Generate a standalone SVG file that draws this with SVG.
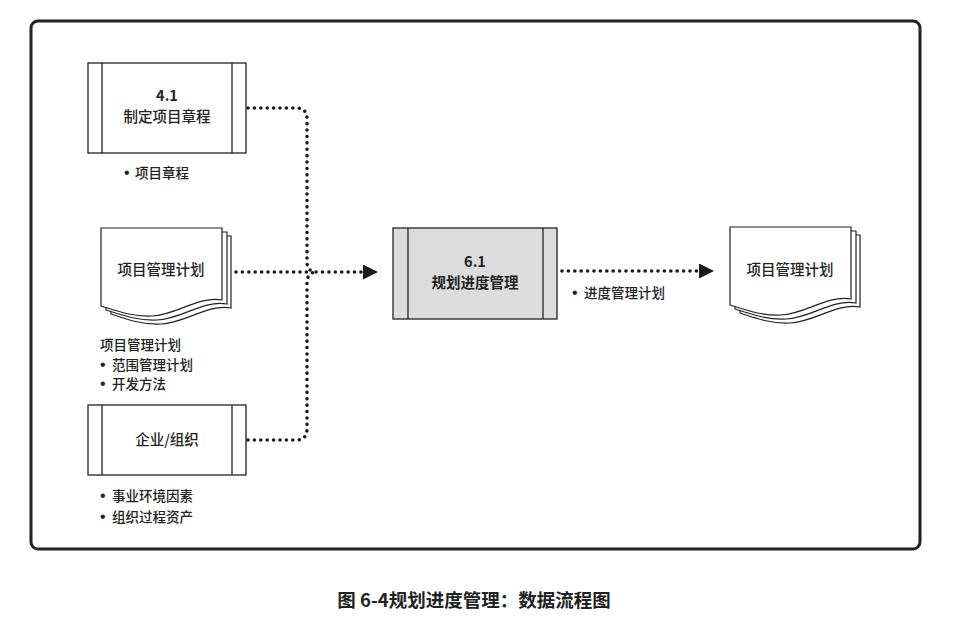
<svg xmlns="http://www.w3.org/2000/svg" width="954" height="622" viewBox="0 0 954 622">
  <defs>
    <style>
      .t { font-family: "Noto Sans CJK SC", "Noto Sans", sans-serif; fill: #222; font-weight: 500; }
      .lbl { font-size: 14.5px; text-anchor: middle; }
      .note { font-size: 13.5px; }
      .bu { font-family: "Liberation Sans", sans-serif; font-size: 16px; }
      .b { font-weight: bold; }
      .box { fill: #fff; stroke: #222; stroke-width: 1.3; }
      .ln { stroke: #222; stroke-width: 1.3; fill: none; }
      .page { fill: #fff; stroke: #222; stroke-width: 1.2; }
      .dots { fill: none; stroke: #1a1a1a; stroke-width: 3.6; stroke-linecap: round; stroke-dasharray: 0 6.4; }
    </style>
    <marker id="arrow" markerWidth="16" markerHeight="16" refX="15" refY="7.5" orient="auto" markerUnits="userSpaceOnUse">
      <path d="M0,0 L15,7.5 L0,15 Z" fill="#1a1a1a"/>
    </marker>
    <!-- document symbol: three stacked pages with wavy bottom -->
    <g id="doc">
      <path class="page" d="M10,8 H130 V80 C105,76 85,95 60,96 C40,97 22,90 10,86 Z"/>
      <path class="page" d="M5,4 H126 V76 C101,72 81,91 56,92 C36,93 18,86 5,82 Z"/>
      <path class="page" d="M0,0 H121 V72 C96,68 76,87 51,88 C31,89 13,82 0,78 Z"/>
    </g>
  </defs>

  <rect width="954" height="622" fill="#fff"/>

  <!-- outer frame -->
  <rect x="31" y="21" width="889" height="528" rx="7" fill="none" stroke="#222" stroke-width="3"/>

  <!-- connectors -->
  <g id="connectors">
    <path class="dots" d="M248,108 H296 Q307,108 307,119 V262 Q307,272 317,272 H378" marker-end="url(#arrow)"/>
    <path class="dots" d="M248,440 H296 Q307,440 307,429 V283 Q307,272 317,272"/>
    <path class="dots" d="M236,272 H307"/>
    <path class="dots" d="M562,271 H714" marker-end="url(#arrow)"/>
    <text class="t note" y="298"><tspan class="bu" x="572">•</tspan><tspan x="584">进度管理计划</tspan></text>
  </g>

  <!-- 4.1 -->
  <g id="node-4-1">
    <rect class="box" x="88" y="63" width="158" height="90"/>
    <line class="ln" x1="102" y1="63" x2="102" y2="153"/>
    <line class="ln" x1="232" y1="63" x2="232" y2="153"/>
    <text class="t lbl b" x="167" y="101">4.1</text>
    <text class="t lbl" x="167" y="122">制定项目章程</text>
    <text class="t note" y="178"><tspan class="bu" x="124">•</tspan><tspan x="135">项目章程</tspan></text>
  </g>

  <!-- project management plan (input) -->
  <g id="node-pmp-in">
    <use href="#doc" x="101" y="228"/>
    <text class="t lbl" x="161" y="275">项目管理计划</text>
    <text class="t note" x="100" y="350">项目管理计划</text>
    <text class="t note" y="370"><tspan class="bu" x="100">•</tspan><tspan x="112">范围管理计划</tspan></text>
    <text class="t note" y="389"><tspan class="bu" x="100">•</tspan><tspan x="112">开发方法</tspan></text>
  </g>

  <!-- enterprise / organization -->
  <g id="node-org">
    <rect class="box" x="88" y="405" width="158" height="70"/>
    <line class="ln" x1="102" y1="405" x2="102" y2="475"/>
    <line class="ln" x1="232" y1="405" x2="232" y2="475"/>
    <text class="t lbl" x="167" y="445">企业/组织</text>
    <text class="t note" y="501"><tspan class="bu" x="100">•</tspan><tspan x="112">事业环境因素</tspan></text>
    <text class="t note" y="522"><tspan class="bu" x="100">•</tspan><tspan x="112">组织过程资产</tspan></text>
  </g>

  <!-- 6.1 -->
  <g id="node-6-1">
    <rect x="393" y="228" width="164" height="91" fill="#dcdcdc" stroke="#222" stroke-width="1.3"/>
    <line class="ln" x1="408" y1="228" x2="408" y2="319"/>
    <line class="ln" x1="543" y1="228" x2="543" y2="319"/>
    <text class="t lbl b" x="475" y="267">6.1</text>
    <text class="t lbl b" x="475" y="288">规划进度管理</text>
  </g>

  <!-- project management plan (output) -->
  <g id="node-pmp-out">
    <use href="#doc" x="730" y="227"/>
    <text class="t lbl" x="790" y="275">项目管理计划</text>
  </g>

  <!-- caption -->
  <text class="t b" x="474" y="607" font-size="18.5" text-anchor="middle">图 6-4规划进度管理：数据流程图</text>
</svg>
